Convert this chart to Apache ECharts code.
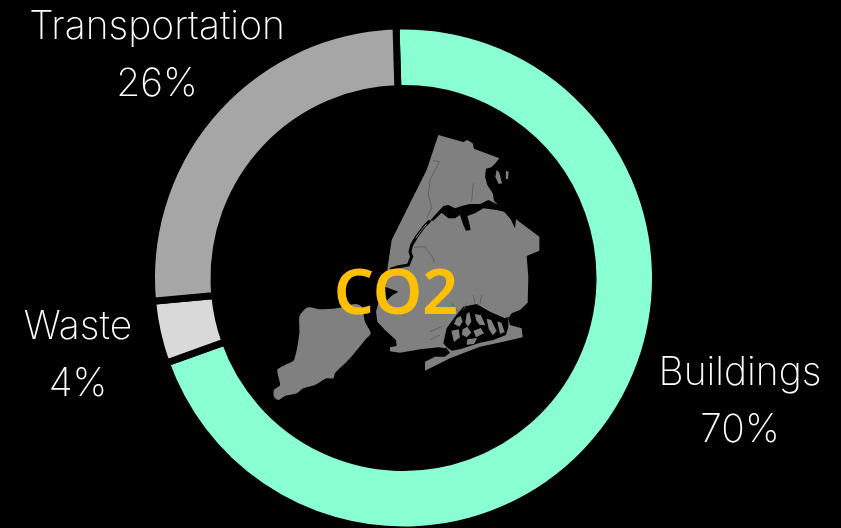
<!DOCTYPE html>
<html>
<head>
<meta charset="utf-8">
<title>CO2</title>
<script src="https://cdn.jsdelivr.net/npm/echarts@6/dist/echarts.min.js"></script>
<style>
html, body { margin: 0; padding: 0; background: #000; }
#chart { width: 841px; height: 528px; }
</style>
</head>
<body>
<div id="chart"></div>
<script>
var categories = ['Buildings', 'Waste', 'Transportation'];
var shares = [70, 4, 26];
var sliceColors = ['#8affd2', '#d9d9d9', '#a6a6a6'];
// label centres, same order as categories
var labelSpots = [[740, 402], [78, 356], [157, 56]];

// new york silhouette at 3x (drawn in a group scaled 1/3)
var cityOutline = [[505,15],[580,36],[592,30],[608,40],[612,56],[688,85],[676,100],[664,112],[648,116],[645,140],[652,165],[668,190],[672,212],[684,224],[700,238],[722,268],[735,295],[738,268],[808,320],[808,362],[770,378],[775,440],[773,518],[750,540],[725,550],[715,565],[720,585],[755,595],[758,622],[700,635],[630,650],[540,685],[465,722],[465,695],[495,680],[525,680],[540,668],[530,655],[505,652],[480,655],[455,657],[390,668],[360,664],[360,652],[380,648],[378,630],[345,600],[322,575],[318,545],[330,500],[345,460],[362,425],[352,418],[365,330],[420,220],[470,120]];
var statenIsland = [[115,532],[150,538],[200,535],[255,522],[275,530],[285,575],[302,610],[285,630],[240,685],[195,730],[190,745],[170,745],[135,765],[100,775],[80,790],[45,798],[25,810],[12,800],[12,780],[30,765],[22,720],[45,705],[72,690],[88,610],[88,560],[100,542]];
var smallIslands = [[[708,122],[716,125],[714,148],[707,146]],[[680,120],[688,128],[696,160],[686,162],[676,140]]];
var eastRiver = [[680,222],[655,210],[630,222],[600,222],[575,228],[555,235],[535,225],[520,228],[500,250],[480,272],[490,272],[515,248],[535,265],[555,265],[570,255],[580,285],[588,302],[602,300],[598,280],[592,258],[615,250],[640,235],[680,240],[702,245],[725,270],[712,240],[690,225]];
var lowerChannel = [[480,272],[462,290],[440,320],[425,345],[420,365],[425,380],[415,405],[385,410],[360,418]];
var rooseveltIsland = [[470,282],[455,300],[437,325]];
var gowanus = [[345,470],[385,485],[365,497],[350,512]];
var jamaicaBay = [[520,640],[530,595],[555,560],[580,530],[620,522],[660,545],[705,565],[715,560],[715,590],[708,615],[670,630],[630,638],[570,658],[545,662],[530,652]];
var bayIslands = [[[560,564],[572,558],[578,575],[568,590],[552,582]],[[590,552],[598,546],[604,575],[594,590],[586,578]],[[615,552],[633,556],[646,586],[628,584],[618,570]],[[578,598],[592,590],[604,608],[590,622],[576,614]],[[610,602],[632,594],[642,610],[618,622]],[[650,566],[664,570],[680,604],[668,616],[656,596]],[[682,574],[694,578],[704,606],[690,612]],[[544,602],[566,598],[570,622],[552,636]],[[592,628],[622,624],[612,642],[590,644]]];
var thinLines = [
    [[490,92],[508,95],[480,150],[475,195],[485,232],[470,265]],
    [[432,352],[465,350],[490,385],[492,400]],
    [[610,160],[605,215]],
    [[590,520],[580,540]], [[545,520],[565,545]], [[610,495],[615,520]], [[635,495],[630,520]],
    [[480,605],[515,590]], [[480,630],[510,615]]
];

function poly(points, color, smooth) {
    return { type: 'polygon', shape: { points: points, smooth: smooth || 0 }, style: { fill: color }, silent: true };
}
function line(points, color, width) {
    return { type: 'polyline', shape: { points: points }, style: { stroke: color, lineWidth: width, fill: null }, silent: true };
}

function buildMap() {
    var gray = '#808080';
    var kids = [poly(cityOutline, gray), poly(statenIsland, gray, 0.25)];
    smallIslands.forEach(function(p) { kids.push(poly(p, gray)); });
    kids.push(poly(eastRiver, '#000'));
    kids.push(line(lowerChannel, '#000', 9));
    kids.push(line(rooseveltIsland, gray, 3));
    kids.push(poly(gowanus, '#000'));
    kids.push(poly(jamaicaBay, '#000'));
    bayIslands.forEach(function(p) { kids.push(poly(p, gray)); });
    thinLines.forEach(function(p) { kids.push(line(p, '#5c5c5c', 2.5)); });
    return kids;
}

var myChart = echarts.init(document.getElementById('chart'), null, { renderer: 'canvas' });
var option = {
    backgroundColor: '#000',
    animation: false,
    graphic: [{
        type: 'group',
        x: 270,
        y: 130,
        scaleX: 1 / 3,
        scaleY: 1 / 3,
        z: 1,
        children: buildMap()
    }, {
        type: 'text',
        x: 396,
        y: 296,
        z: 5,
        silent: true,
        style: {
            text: 'CO2',
            fill: '#ffc000',
            font: '600 63px "Noto Sans"',
            textAlign: 'center',
            textVerticalAlign: 'middle'
        }
    }],
    series: [{
        type: 'pie',
        center: [403.5, 278],
        radius: [189.5, 252],
        startAngle: 91.7,
        clockwise: true,
        silent: true,
        z: 3,
        data: categories.map(function(name, i) {
            return {
                name: name,
                value: shares[i],
                itemStyle: { color: sliceColors[i], borderColor: '#000', borderWidth: 7 }
            };
        }),
        label: {
            show: true,
            position: 'outside',
            alignTo: 'none',
            overflow: 'none',
            width: 400,
            formatter: '{b}\n{d}%',
            color: '#fff',
            fontFamily: 'Inter',
            fontWeight: 200,
            fontSize: 39,
            lineHeight: 57,
            align: 'center'
        },
        labelLine: { show: false },
        labelLayout: function(params) {
            var spot = labelSpots[params.dataIndex];
            return { x: spot[0], y: spot[1], align: 'center', verticalAlign: 'middle' };
        }
    }]
};
myChart.setOption(option);
</script>
</body>
</html>
